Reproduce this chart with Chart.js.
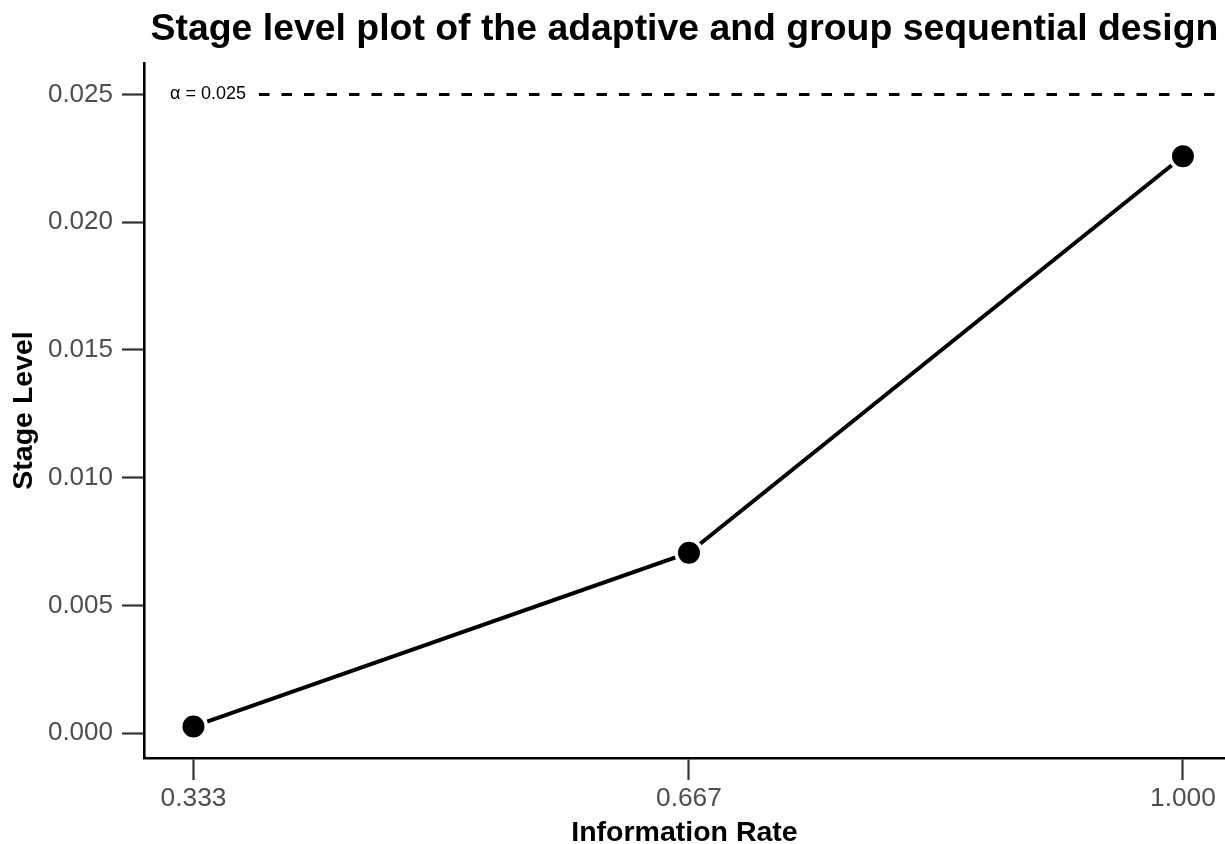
<!DOCTYPE html>
<html>
<head>
<meta charset="utf-8">
<script src="https://cdn.jsdelivr.net/npm/chart.js@4.4.1/dist/chart.umd.min.js"></script>
<style>
  html, body { margin: 0; padding: 0; background: #ffffff; overflow: hidden; }
  #wrap { width: 1225px; height: 844px; overflow: hidden; }
  canvas { display: block; }
</style>
</head>
<body>
<div id="wrap"><canvas id="chart" width="1225" height="844"></canvas></div>
<script>
// Information rates of the three stages and the stage levels reached there
const informationRates = [0.333, 0.667, 1.000];
const stageLevels = [0.00026, 0.00706, 0.02258];
const xTickValues = [0.333, 0.667, 1.000];
const yTickValues = [0.000, 0.005, 0.010, 0.015, 0.020, 0.025];
const alpha = 0.025;
const alphaLabel = 'α = 0.025';

const FONT = '"Liberation Sans", Arial, Helvetica, sans-serif';

// axis limits with the usual 5 % breathing room around the data
const xLo = Math.min(...informationRates), xHi = Math.max(...informationRates);
const xSpan = xHi - xLo;
const yLo = Math.min(...stageLevels), yHi = Math.max(alpha, ...stageLevels);
const ySpan = yHi - yLo;

// dashed reference line for the overall significance level, with its label
const alphaLine = {
  id: 'alphaLine',
  beforeDatasetsDraw(chart) {
    const { ctx, chartArea, scales } = chart;
    const y = scales.y.getPixelForValue(alpha);
    ctx.save();
    ctx.font = '18px ' + FONT;
    ctx.textBaseline = 'middle';
    ctx.fillStyle = '#000';
    const tx = chartArea.left + 26;
    ctx.fillText(alphaLabel, tx, y);
    const w = ctx.measureText(alphaLabel).width;
    ctx.beginPath();
    ctx.setLineDash([10.5, 12]);
    ctx.lineWidth = 2.8;
    ctx.strokeStyle = '#000';
    ctx.moveTo(tx + w + 13, y);
    ctx.lineTo(chartArea.right, y);
    ctx.stroke();
    ctx.restore();
  }
};

// the axes only reserve what the drawn labels need, no extra edge padding
function noEdgePadding(scale) {
  scale.paddingLeft = 0;
  scale.paddingRight = 0;
  scale.paddingTop = 0;
  scale.paddingBottom = 0;
}

new Chart(document.getElementById('chart'), {
  type: 'line',
  data: {
    datasets: [{
      data: informationRates.map((x, i) => ({ x, y: stageLevels[i] })),
      borderColor: '#000',
      borderWidth: 4,
      backgroundColor: '#000',
      pointBackgroundColor: '#000',
      pointBorderColor: '#fff',
      pointBorderWidth: 3.6,
      pointRadius: 12.8,
      pointHoverRadius: 12.8,
      tension: 0,
      clip: false
    }]
  },
  options: {
    responsive: false,
    animation: false,
    events: [],
    layout: { padding: 0, autoPadding: false },
    plugins: {
      legend: { display: false },
      tooltip: { enabled: false },
      title: {
        display: true,
        fullSize: false,
        text: 'Stage level plot of the adaptive and group sequential design',
        color: '#000',
        font: { family: FONT, size: 37.4, weight: 'bold', lineHeight: 1.2 },
        padding: { top: 7, bottom: 11 }
      }
    },
    scales: {
      x: {
        type: 'linear',
        min: xLo - 0.05 * xSpan,
        max: xHi + 0.0425 * xSpan,
        afterBuildTicks(scale) { scale.ticks = xTickValues.map(v => ({ value: v })); },
        afterFit(scale) { scale.height = 86; noEdgePadding(scale); },
        ticks: {
          autoSkip: false,
          maxRotation: 0,
          color: '#4d4d4d',
          font: { family: FONT, size: 26.3 },
          padding: 3,
          callback: v => v.toFixed(3)
        },
        grid: { drawOnChartArea: false, drawTicks: true, tickLength: 22, tickColor: '#333333', tickWidth: 2.2 },
        border: { display: true, color: '#000', width: 2.6 },
        title: {
          display: true,
          text: 'Information Rate',
          color: '#000',
          font: { family: FONT, size: 28.5, weight: 'bold', lineHeight: 1.2 },
          padding: { top: 0, bottom: -6 }
        }
      },
      y: {
        type: 'linear',
        min: yLo - 0.05 * ySpan,
        max: yHi + 0.05 * ySpan,
        afterBuildTicks(scale) { scale.ticks = yTickValues.map(v => ({ value: v })); },
        afterFit(scale) { scale.width = 144; noEdgePadding(scale); },
        ticks: {
          color: '#4d4d4d',
          font: { family: FONT, size: 26 },
          padding: 9,
          callback: v => v.toFixed(3)
        },
        grid: { drawOnChartArea: false, drawTicks: true, tickLength: 22, tickColor: '#333333', tickWidth: 2.2 },
        border: { display: true, color: '#000', width: 2.6 },
        title: {
          display: true,
          text: 'Stage Level',
          color: '#000',
          font: { family: FONT, size: 28.5, weight: 'bold', lineHeight: 1.2 },
          padding: { top: 7, bottom: 0 }
        }
      }
    }
  },
  plugins: [alphaLine]
});
</script>
</body>
</html>
